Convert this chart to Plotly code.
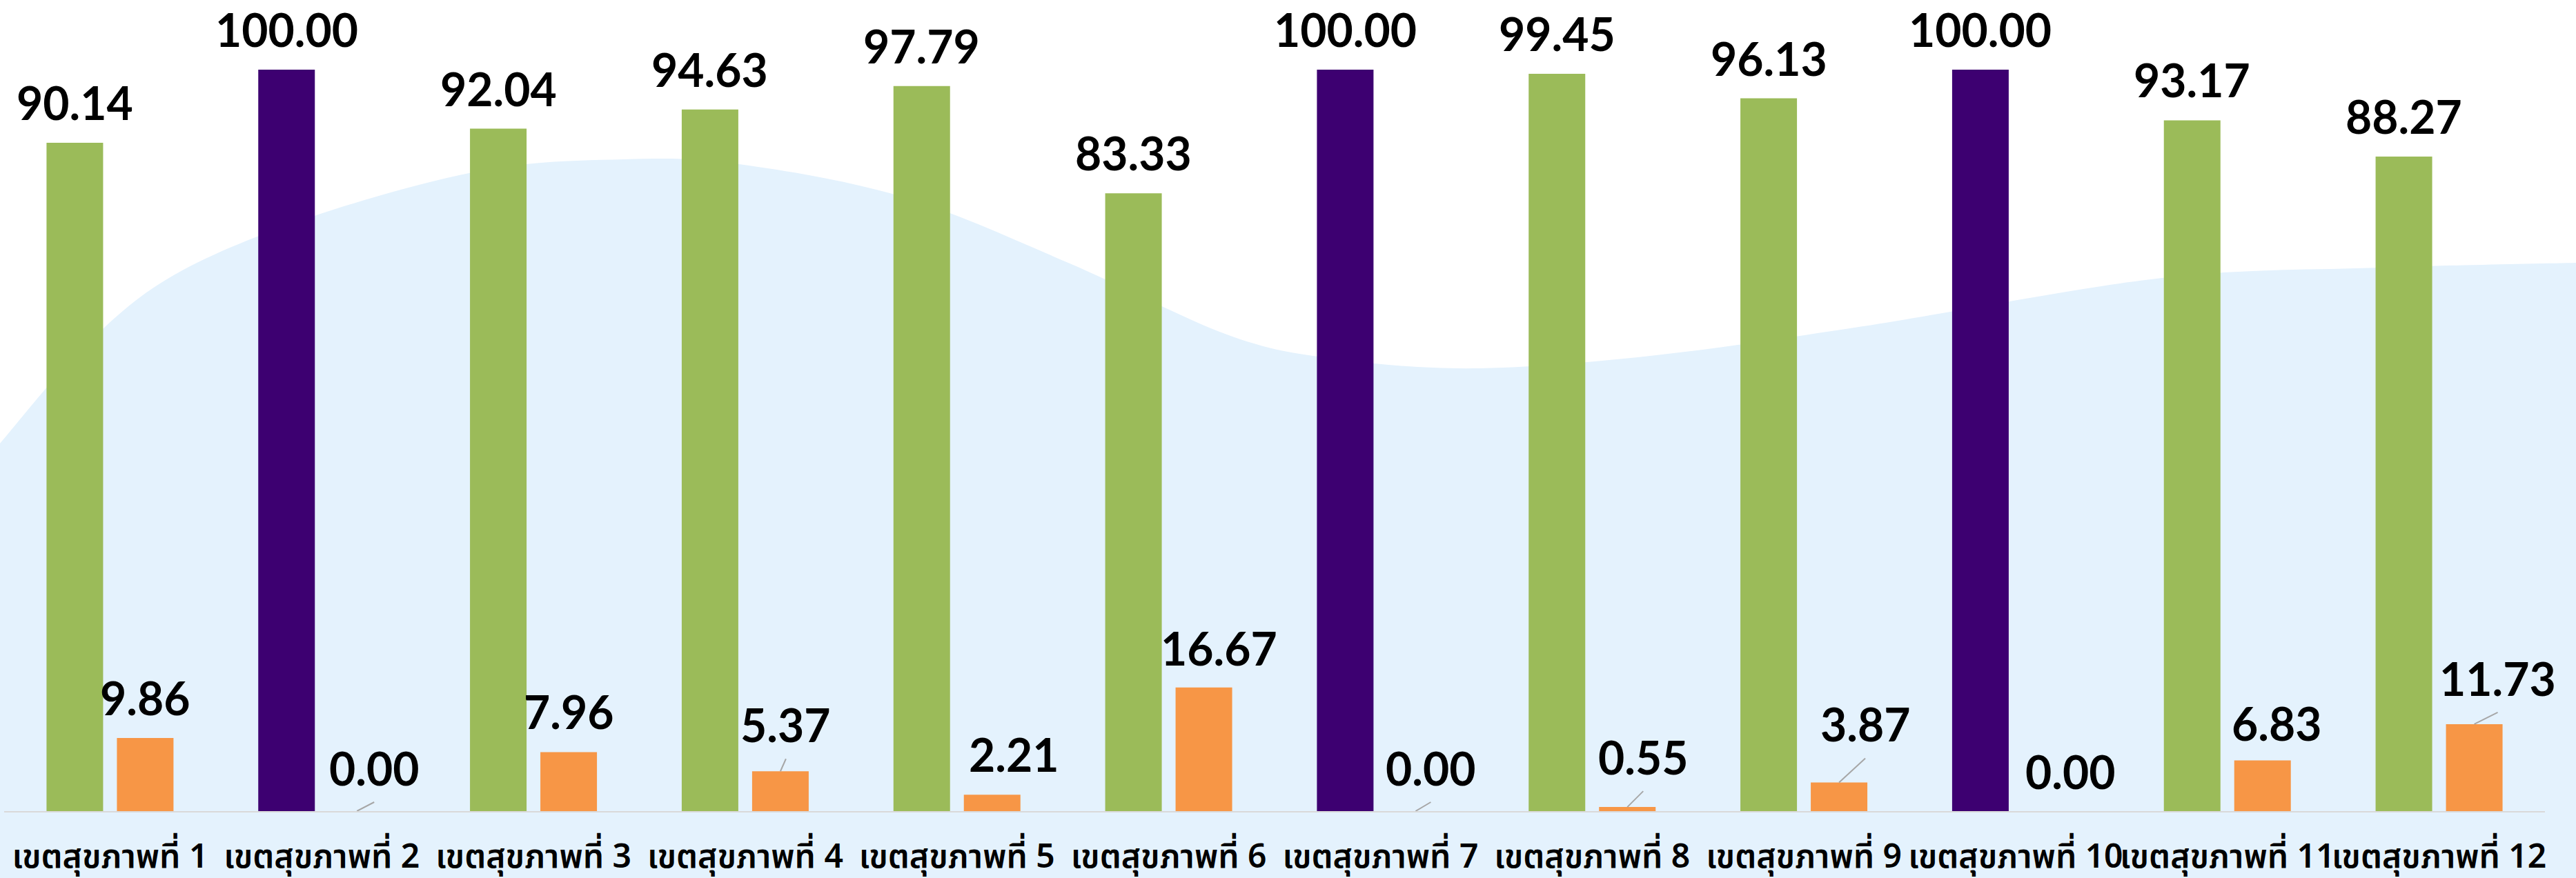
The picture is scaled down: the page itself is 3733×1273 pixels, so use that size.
import plotly.graph_objects as go

# ---------------- data ----------------
categories = ["เขตสุขภาพที่ 1", "เขตสุขภาพที่ 2", "เขตสุขภาพที่ 3", "เขตสุขภาพที่ 4",
              "เขตสุขภาพที่ 5", "เขตสุขภาพที่ 6", "เขตสุขภาพที่ 7", "เขตสุขภาพที่ 8",
              "เขตสุขภาพที่ 9", "เขตสุขภาพที่ 10", "เขตสุขภาพที่ 11", "เขตสุขภาพที่ 12"]
series_a = [90.14, 100.00, 92.04, 94.63, 97.79, 83.33, 100.00, 99.45, 96.13, 100.00, 93.17, 88.27]
series_b = [9.86, 0.00, 7.96, 5.37, 2.21, 16.67, 0.00, 0.55, 3.87, 0.00, 6.83, 11.73]

# ---------------- style ----------------
W, H = 3733, 1273
PLOT_L, PLOT_R = 6, 3688
BASE_Y = 1176
PX_PER_UNIT_Y = 10.75
Y_MAX = BASE_Y / PX_PER_UNIT_Y
CAT_PX = (PLOT_R - PLOT_L) / 12.0

GREEN = "#9BBB59"
PURPLE = "#3D0071"
ORANGE = "#F79646"
WAVE = "#E4F2FD"

BAR_W = 82 / CAT_PX
BAR_SHIFT = 51 / CAT_PX

# label placement for the second series (pixel shift right, pixel gap above bar)
b_label_dx = [0, 25, 0, 8, 32, 22, 22, 23, 38, 29, 21, 34]
b_label_gap = [32, 36, 32, 41, 32, 31, 36, 46, 58, 31, 28, 40]
a_label_gap = 32
TEXT_DESC = 15   # baseline offset of annotation box bottom

LABEL_FONT = dict(family="Lato, 'Open Sans', sans-serif", size=66, color="#000000", weight=700)

x = list(range(len(categories)))
a_colors = [PURPLE if v >= 100 else GREEN for v in series_a]

fig = go.Figure()
fig.add_trace(go.Bar(x=x, y=series_a, width=BAR_W, offset=-BAR_SHIFT - BAR_W / 2,
                     marker=dict(color=a_colors, line=dict(width=0)), showlegend=False,
                     hoverinfo="skip"))
fig.add_trace(go.Bar(x=x, y=series_b, width=BAR_W, offset=BAR_SHIFT - BAR_W / 2,
                     marker=dict(color=ORANGE, line=dict(width=0)), showlegend=False,
                     hoverinfo="skip"))

annotations = []
shapes = []
for i, v in enumerate(series_a):
    annotations.append(dict(x=i - BAR_SHIFT, y=v, xref="x", yref="y", text=f"{v:.2f}",
                            showarrow=False, yanchor="bottom", xanchor="center",
                            yshift=a_label_gap - TEXT_DESC, font=LABEL_FONT))
for i, v in enumerate(series_b):
    dx = b_label_dx[i]
    gap = b_label_gap[i]
    annotations.append(dict(x=i + BAR_SHIFT, y=v, xref="x", yref="y", text=f"{v:.2f}",
                            showarrow=False, yanchor="bottom", xanchor="center",
                            xshift=dx, yshift=gap - TEXT_DESC, font=LABEL_FONT))
    if gap > 34:
        shapes.append(dict(type="line", xref="x", yref="y",
                           x0=i + BAR_SHIFT, y0=v,
                           x1=i + BAR_SHIFT + dx / CAT_PX, y1=v + (gap - 23) / PX_PER_UNIT_Y,
                           line=dict(color="#A6A6A6", width=2), layer="above"))

# decorative background wave (pixel points -> paper coords)
wave_px = [(0, 643), (120, 505), (250, 400), (450, 315), (700, 247), (905, 231), (1071, 238),
           (1310, 286), (1548, 381), (1786, 488), (1950, 522), (2145, 534), (2400, 515),
           (2700, 473), (3133, 403), (3452, 388), (3733, 381)]


def to_paper(px, py):
    return (px - PLOT_L) / (PLOT_R - PLOT_L), (BASE_Y - py) / BASE_Y


pts = [to_paper(px, py) for px, py in wave_px]
path = f"M {pts[0][0]:.5f},{pts[0][1]:.5f}"
for k in range(len(pts) - 1):
    p0 = pts[k - 1] if k > 0 else pts[k]
    p1 = pts[k]
    p2 = pts[k + 1]
    p3 = pts[k + 2] if k + 2 < len(pts) else pts[k + 1]
    c1 = (p1[0] + (p2[0] - p0[0]) / 6, p1[1] + (p2[1] - p0[1]) / 6)
    c2 = (p2[0] - (p3[0] - p1[0]) / 6, p2[1] - (p3[1] - p1[1]) / 6)
    path += f" C {c1[0]:.5f},{c1[1]:.5f} {c2[0]:.5f},{c2[1]:.5f} {p2[0]:.5f},{p2[1]:.5f}"
br = to_paper(W + 10, H + 10)
bl = to_paper(-10, H + 10)
path += f" L {br[0]:.5f},{pts[-1][1]:.5f} L {br[0]:.5f},{br[1]:.5f} L {bl[0]:.5f},{bl[1]:.5f} Z"
shapes.insert(0, dict(type="path", xref="paper", yref="paper", path=path,
                      fillcolor=WAVE, line=dict(width=0), layer="below"))

fig.update_layout(
    width=W, height=H,
    margin=dict(l=PLOT_L, r=W - PLOT_R, t=0, b=H - BASE_Y, autoexpand=False),
    paper_bgcolor="white", plot_bgcolor="rgba(0,0,0,0)",
    barmode="overlay",
    annotations=annotations, shapes=shapes,
    xaxis=dict(range=[-0.5, 11.5], tickvals=x, ticktext=categories, automargin=False,
               showgrid=False, zeroline=False, showline=True, linecolor="#D9D9D9", linewidth=2,
               ticks="", ticklabelstandoff=22, tickangle=0,
               tickfont=dict(family="'Noto Sans Thai', 'Noto Sans Thai UI', Tahoma, sans-serif",
                             size=48, color="#000000", weight=600)),
    yaxis=dict(range=[0, Y_MAX], visible=False, showgrid=False, zeroline=False,
               automargin=False),
)

fig.write_html("out.html")
